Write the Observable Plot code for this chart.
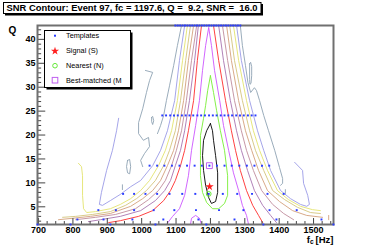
<!DOCTYPE html>
<html>
<head>
<meta charset="utf-8">
<script src="https://cdn.jsdelivr.net/npm/d3@7"></script>
<script src="https://cdn.jsdelivr.net/npm/@observablehq/plot@0.6"></script>
<style>
html,body{margin:0;padding:0;background:#fff;}
#wrap{position:relative;width:370px;height:249px;overflow:hidden;background:#fff;}
#wrap svg{position:absolute;left:0;top:0;}
</style>
</head>
<body>
<div id="wrap"></div>
<script>
// ---------------- data ----------------
const titleText = "SNR Contour: Event 97, fc = 1197.6, Q =  9.2, SNR =  16.0";
const legendLabels = ["Templates", "Signal (S)", "Nearest (N)", "Best-matched (M"];
const xTickLabels = [700, 800, 900, 1000, 1100, 1200, 1300, 1400, 1500];
const xMinorTicks = [725, 750, 775, 825, 850, 875, 925, 950, 975, 1025, 1050, 1075, 1125, 1150, 1175,
  1225, 1250, 1275, 1325, 1350, 1375, 1425, 1450, 1475, 1525, 1550];
const yTickLabels = [5, 10, 15, 20, 25, 30, 35, 40];
const yMinorTicks = [2, 3, 4, 6, 7, 8, 9, 11, 12, 13, 14, 16, 17, 18, 19, 21, 22, 23, 24, 26, 27, 28, 29,
  31, 32, 33, 34, 36, 37, 38, 39, 41, 42];

// template bank: one Q value per row, frequencies of that row
const templateQ = [1.3, 2.35, 4.3, 7.7, 13.6, 24.1, 42.9];
const templateF = [
  [697, 793, 909, 1040, 1188, 1354, 1558],
  [813, 889, 973, 1063, 1165, 1270, 1392, 1523],
  [874, 925, 978, 1035, 1095, 1158, 1225, 1296, 1372, 1451],
  [946, 978, 1011, 1045, 1081, 1118, 1156, 1195, 1236, 1278, 1321, 1366, 1413],
  [1023, 1045, 1066, 1088, 1110, 1132, 1154, 1175, 1197, 1219, 1241, 1262, 1284, 1306, 1328, 1350, 1371],
  [1060, 1071, 1083, 1094, 1105, 1117, 1128, 1139, 1150, 1162, 1173, 1184, 1196, 1207, 1218, 1230, 1241,
   1252, 1263, 1275, 1286, 1297, 1309, 1320, 1331],
  [1098, 1105, 1112, 1119, 1126, 1133, 1140, 1147, 1154, 1161, 1168, 1175, 1182, 1189, 1196, 1203, 1210,
   1217, 1224, 1231, 1238, 1245, 1252, 1259, 1266, 1273, 1280, 1287]
];
const signalF = [1197.6], signalQ = [9.2];
const nearestF = [1195], nearestQ = [7.7];
const bestF = [1197], bestQ = [13.6];

// SNR contour lines, points as [fc (Hz), Q]
const slateTop = [[1116,42.9],[1104,38.7],[1093,34.5],[1081,30.3],[1072,27.2],[1064,24.1],[1055,22.0],[1046,20.3]];
const slateHook = [[1011,33.5],[1032,33.1],[1023,31.4],[1014,28.9],[1003,25.5],[991,22.6],[991,20.3],[1005,18.9],
  [1020,19.5],[1023,17.6],[1008,16.1],[997,14.7],[1003,13.4]];
const slateRingA = [[959,14.7],[965,14.9],[968,13.4],[965,11.9],[959,12.1],[956,13.4],[959,14.7]];
const slateRingC = [[1029,23.7],[1032,23.9],[1035,23.0],[1032,22.2],[1029,22.8],[1029,23.7]];
const slateRight = [[1287,42.9],[1293,38.7],[1302,34.5],[1309,31.0],[1317,28.9],[1328,29.9],[1334,29.3],[1343,27.2],
  [1355,24.1],[1369,20.9],[1387,16.8],[1401,13.2],[1410,10.9],[1410,9.9],[1404,9.5]];
const slateRingR = [[1314,34.9],[1317,35.2],[1320,34.3],[1320,32.4],[1318,30.8],[1315,30.6],[1314,31.6],[1314,34.9]];
const slateTickA = [[944,9.6],[944,8.6]];
const slateTickB = [[1418,8.6],[1418,7.6]];
const lavLeft = [[1125,42.9],[1110,35.6],[1096,27.2],[1075,20.9],[1055,16.8],[1032,13.6],[997,10.5],[968,9.2],
  [938,7.6],[909,6.3],[886,5.3],[877,5.5],[883,8.0],[898,12.6],[915,16.8],[927,20.9],[933,23.5]];
const lavRight = [[1276,42.9],[1290,35.6],[1314,27.2],[1337,20.9],[1355,16.8],[1375,12.6],[1404,8.4],[1433,6.7],
  [1462,5.5],[1480,5.1],[1488,5.5],[1483,7.4],[1471,9.9],[1468,12.6],[1445,14.3]];
const yellowLeft = [[1133,42.9],[1119,35.6],[1104,27.2],[1087,20.9],[1069,16.8],[1049,13.6],[1023,10.5],[997,8.4],
  [968,6.7],[938,5.5],[909,4.6],[866,4.0],[840,3.8],[831,4.6],[828,7.4],[828,11.5],[825,13.4],[816,14.1]];
const yellowRight = [[1267,42.9],[1282,35.6],[1305,27.2],[1325,20.9],[1343,16.8],[1366,12.6],[1395,8.4],[1427,6.5],
  [1462,5.1],[1497,4.4],[1520,4.2]];
const khakiLeft = [[1142,42.9],[1128,35.6],[1113,27.2],[1098,20.9],[1081,16.8],[1064,13.6],[1040,10.5],[1014,8.4],
  [985,6.7],[953,5.3],[909,4.0],[857,3.4],[808,3.0],[770,2.8]];
const khakiRight = [[1256,42.9],[1270,35.6],[1293,27.2],[1314,20.9],[1331,16.8],[1355,12.6],[1381,8.4],[1416,6.5],
  [1453,4.9],[1491,3.8],[1520,3.6]];
const tanLeft = [[1151,42.9],[1136,35.6],[1122,27.2],[1107,20.9],[1093,16.8],[1075,13.6],[1055,10.5],[1032,8.4],
  [1003,6.7],[968,5.1],[909,3.6],[851,3.0],[799,2.6],[758,2.3]];
const tanRight = [[1247,42.9],[1261,35.6],[1282,27.2],[1302,20.9],[1320,16.8],[1340,12.6],[1366,8.4],[1401,6.1],
  [1439,4.2],[1480,3.2],[1526,2.8]];
const tanTick = [[1544,3.2],[1544,2.3]];
const mauveLeft = [[1160,42.9],[1145,35.6],[1130,27.2],[1116,20.9],[1101,16.8],[1087,13.6],[1069,10.5],[1049,8.4],
  [1020,6.5],[982,4.6],[924,3.4],[866,2.8],[808,2.3]];
const mauveRight = [[1235,42.9],[1250,35.6],[1270,27.2],[1290,20.9],[1305,16.8],[1325,12.6],[1349,8.4],[1381,5.5],
  [1413,3.6],[1442,2.3]];
const purpleLeft = [[1165,42.9],[1154,35.6],[1139,27.2],[1125,20.9],[1113,16.8],[1098,13.6],[1084,10.5],[1067,8.4],
  [1040,6.3],[997,4.2],[938,3.0],[880,2.3],[845,1.9]];
const purpleRight = [[1224,42.9],[1238,35.6],[1258,27.2],[1276,20.9],[1290,16.8],[1308,12.6],[1328,8.4],[1352,5.3],
  [1375,3.2],[1392,1.7]];
const redLeft = [[1174,42.9],[1162,35.6],[1151,27.2],[1136,20.9],[1125,16.8],[1113,13.6],[1098,10.5],[1084,8.4],
  [1064,6.3],[1032,4.2],[991,3.0],[938,2.1],[904,1.7]];
const redRight = [[1209,42.9],[1224,35.6],[1244,27.2],[1261,20.9],[1273,16.8],[1287,12.6],[1305,8.4],[1323,5.3],
  [1340,3.2],[1352,1.7]];
const magentaArch = [[1072,1.3],[1090,3.0],[1110,4.6],[1125,7.4],[1136,11.5],[1145,16.8],[1157,22.0],[1168,27.2],
  [1177,33.5],[1186,38.7],[1195,42.5],[1203,38.7],[1212,33.5],[1227,27.2],[1238,22.0],[1253,16.8],[1267,12.1],
  [1282,8.4],[1293,5.3],[1305,3.2],[1311,1.3]];
const magentaBump = [[1142,1.3],[1145,2.6],[1157,3.2],[1168,2.6],[1174,1.3]];
const greenLoop = [[1200,32.4],[1192,29.3],[1186,26.2],[1180,23.5],[1171,19.9],[1171,15.7],[1171,11.5],[1177,8.0],
  [1189,5.9],[1206,4.6],[1224,4.6],[1241,5.7],[1250,7.4],[1250,11.5],[1241,16.8],[1229,20.9],[1218,25.1],
  [1209,28.9],[1200,32.4]];
const blackLoop = [[1200,22.4],[1189,20.9],[1180,18.9],[1177,15.7],[1180,12.6],[1186,9.5],[1195,6.9],[1203,5.7],
  [1215,6.1],[1221,8.0],[1221,12.1],[1215,15.7],[1209,18.9],[1206,20.9],[1200,22.4]];

// which contour level each piece belongs to
const contourPieces = [
  ["slate", slateTop], ["slate", slateHook], ["slate", slateRingA], ["slate", slateRingC], ["slate", slateRight],
  ["slate", slateRingR], ["slate", slateTickA], ["slate", slateTickB],
  ["lav", lavLeft], ["lav", lavRight], ["yellow", yellowLeft], ["yellow", yellowRight],
  ["khaki", khakiLeft], ["khaki", khakiRight], ["tan", tanLeft], ["tan", tanRight], ["tan", tanTick],
  ["mauve", mauveLeft], ["mauve", mauveRight], ["purple", purpleLeft], ["purple", purpleRight],
  ["red", redLeft], ["red", redRight], ["magenta", magentaArch], ["magenta", magentaBump],
  ["green", greenLoop], ["black", blackLoop]
];

// ---------------- styles ----------------
const levelColor = {
  slate: "#8ea3b3", lav: "#9b9be6", yellow: "#e3e36e", khaki: "#d4c47c", tan: "#d4a07c",
  mauve: "#c08c9c", purple: "#a874b0", red: "#ff2b2b", magenta: "#cc55ff", green: "#77ee33", black: "#000000"
};
const FONT = "Liberation Sans, Arial, Helvetica, sans-serif";
const templateBlue = "#2a3cff";

// ---------------- build ----------------
const templates = [];
templateQ.forEach((q, i) => templateF[i].forEach(f => templates.push({f, q})));
const pts = (fs, qs) => fs.map((f, i) => ({f, q: qs[i]}));

const X0 = 697, X1 = 1558, Y0 = 1.3, Y1 = 42.9;
const marks = [];
for (const [lvl, piece] of contourPieces) {
  marks.push(Plot.line(piece, {x: d => d[0], y: d => d[1], stroke: levelColor[lvl], strokeWidth: 0.9}));
}
// ticks (drawn inward, ROOT style)
marks.push(
  Plot.ruleX(xTickLabels, {y1: Y0, y2: Y0 + 1.25, stroke: "#444", strokeWidth: 1}),
  Plot.ruleX(xMinorTicks, {y1: Y0, y2: Y0 + 0.62, stroke: "#444", strokeWidth: 1}),
  Plot.ruleY(yTickLabels, {x1: X0, x2: X0 + 24, stroke: "#444", strokeWidth: 1}),
  Plot.ruleY(yMinorTicks, {x1: X0, x2: X0 + 12, stroke: "#444", strokeWidth: 1}),
  Plot.frame({stroke: "#707070", strokeWidth: 2}),
  Plot.axisX({ticks: xTickLabels, tickSize: 0, tickPadding: 2, label: null, tickFormat: d => String(d),
    fontWeight: "bold", fontSize: 9, fill: "#000"}),
  Plot.axisY({ticks: yTickLabels, tickSize: 0, tickPadding: 2, label: null, tickFormat: d => String(d),
    fontWeight: "bold", fontSize: 9, fill: "#000"}),
  Plot.dot(templates, {x: "f", y: "q", symbol: "square", r: 1.1, fill: templateBlue, stroke: null}),
  Plot.dot(pts(signalF, signalQ), {x: "f", y: "q", symbol: "star", r: 2.6, fill: "#ff2020", stroke: null}),
  Plot.dot(pts(nearestF, nearestQ), {x: "f", y: "q", symbol: "circle", r: 2.4, fill: "none", stroke: "#66e83a", strokeWidth: 1}),
  Plot.dot(pts(bestF, bestQ), {x: "f", y: "q", symbol: "square", r: 3.3, fill: "none", stroke: "#c05ff0", strokeWidth: 1}),
  Plot.text(["Q"], {frameAnchor: "top-left", dx: -25, dy: 5.5, textAnchor: "middle", lineAnchor: "middle", fontWeight: "bold", fontSize: 10}),
  Plot.text(["[Hz]"], {frameAnchor: "bottom-right", dx: 0, dy: 15.5, textAnchor: "end", lineAnchor: "middle", fontWeight: "bold", fontSize: 9.5}),
  Plot.text(["c"], {frameAnchor: "bottom-right", dx: -23.5, dy: 17.5, textAnchor: "start", lineAnchor: "middle", fontWeight: "bold", fontSize: 6.5}),
  Plot.text(["f"], {frameAnchor: "bottom-right", dx: -23.5, dy: 15.5, textAnchor: "end", lineAnchor: "middle", fontWeight: "bold", fontSize: 9.5})
);

const chart = Plot.plot({
  width: 370, height: 249,
  marginTop: 25, marginRight: 37, marginBottom: 25, marginLeft: 37,
  x: {domain: [X0, X1]},
  y: {domain: [Y0, Y1]},
  style: {fontFamily: FONT, fontSize: "9px", background: "#fff", color: "#000"},
  marks
});
const wrap = document.getElementById("wrap");
wrap.appendChild(chart);

// ---------------- title box ----------------
const ov = d3.select(wrap).append("svg").attr("width", 370).attr("height", 249)
  .style("font-family", FONT);
ov.append("rect").attr("x", 5).attr("y", 4).attr("width", 258).attr("height", 11.5).attr("fill", "#000");
ov.append("rect").attr("x", 3.5).attr("y", 2.5).attr("width", 257.5).attr("height", 11).attr("fill", "#fff")
  .attr("stroke", "#000").attr("stroke-width", 1);
ov.append("text").attr("x", 6.6).attr("y", 11.4).attr("font-weight", "bold").attr("font-size", 9.4)
  .style("white-space", "pre").attr("xml:space", "preserve").text(titleText);

// ---------------- legend ----------------
const lx = 44, ly = 30, lw = 86, lh = 57;
ov.append("rect").attr("x", lx + 2.5).attr("y", ly + 2.5).attr("width", lw).attr("height", lh).attr("fill", "#000");
ov.append("rect").attr("x", lx + 0.5).attr("y", ly + 0.5).attr("width", lw).attr("height", lh).attr("fill", "#fff")
  .attr("stroke", "#000").attr("stroke-width", 1);
const rowY = [35.7, 51, 65.7, 80.2];
const mx = 55;
ov.append("rect").attr("x", mx - 1).attr("y", rowY[0] - 1).attr("width", 2).attr("height", 2).attr("fill", templateBlue);
ov.append("path").attr("d", d3.symbol(d3.symbolStar, Math.PI * 2.6 * 2.6)()).attr("transform", `translate(${mx},${rowY[1]})`).attr("fill", "#ff2020");
ov.append("circle").attr("cx", mx).attr("cy", rowY[2]).attr("r", 2.3).attr("fill", "none").attr("stroke", "#66e83a");
ov.append("rect").attr("x", mx - 2.8).attr("y", rowY[3] - 2.8).attr("width", 5.6).attr("height", 5.6).attr("fill", "none").attr("stroke", "#c05ff0");
legendLabels.forEach((t, i) => {
  ov.append("text").attr("x", 66).attr("y", rowY[i] + 2.4).attr("font-size", 7.3).attr("fill", "#000").text(t);
});
</script>
</body>
</html>
